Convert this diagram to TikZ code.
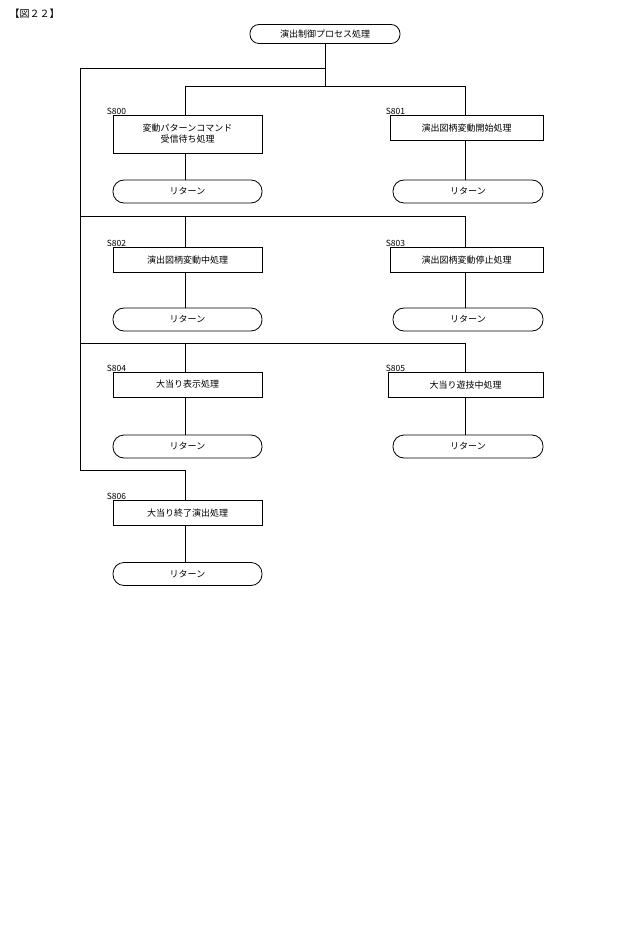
\documentclass[tikz,border=0pt]{standalone}
\usepackage{fontspec}
\setmainfont{Noto Sans CJK JP}
\begin{document}
\begin{tikzpicture}[x=1pt,y=-1pt,
  every node/.style={font=\fontsize{9}{11}\selectfont},
  proc/.style={draw,thick,minimum height=25pt,inner sep=2pt,align=center},
  term/.style={draw,thick,rounded corners=11pt,minimum height=23pt,minimum width=149pt},
  lbl/.style={anchor=south west,inner sep=1pt,font=\fontsize{8.5}{10}\selectfont},
  ln/.style={thick}]
\useasboundingbox (0,0) rectangle (640,949);
\node[anchor=west,font=\fontsize{10}{12}\selectfont] (title) at (6,14) {【図２２】};
\node[draw,thick,rounded corners=9pt,minimum height=19pt,minimum width=150pt] (start) at (325,34) {演出制御プロセス処理};
% row1
\node[proc,minimum width=149pt,minimum height=38pt] (s800) at (187.5,134) {変動パターンコマンド\\受信待ち処理};
\node[proc,minimum width=153pt] (s801) at (466.5,128) {演出図柄変動開始処理};
\node[term] (r0) at (187.5,191.5) {リターン};
\node[term,minimum width=150pt] (r1) at (468,191.5) {リターン};
% row2
\node[proc,minimum width=149pt] (s802) at (187.5,260) {演出図柄変動中処理};
\node[proc,minimum width=153pt] (s803) at (466.5,260) {演出図柄変動停止処理};
\node[term] (r2) at (187.5,319.5) {リターン};
\node[term,minimum width=150pt] (r3) at (468,319.5) {リターン};
% row3
\node[proc,minimum width=149pt] (s804) at (187.5,384.5) {大当り表示処理};
\node[proc,minimum width=155pt] (s805) at (465.5,385) {大当り遊技中処理};
\node[term] (r4) at (187.5,446.5) {リターン};
\node[term,minimum width=150pt] (r5) at (468,446.5) {リターン};
% row4
\node[proc,minimum width=149pt] (s806) at (187.5,513) {大当り終了演出処理};
\node[term] (r6) at (187.5,574) {リターン};
% labels
\node[lbl] (l800) at (s800.north west) [xshift=-7pt,yshift=-1pt] {S800};
\node[lbl] (l801) at (s801.north west) [xshift=-5pt,yshift=-1pt] {S801};
\node[lbl] (l802) at (s802.north west) [xshift=-7pt,yshift=-1pt] {S802};
\node[lbl] (l803) at (s803.north west) [xshift=-5pt,yshift=-1pt] {S803};
\node[lbl] (l804) at (s804.north west) [xshift=-7pt,yshift=-1pt] {S804};
\node[lbl] (l805) at (s805.north west) [xshift=-3pt,yshift=-1pt] {S805};
\node[lbl] (l806) at (s806.north west) [xshift=-7pt,yshift=-1pt] {S806};
% connectors
\coordinate (j0) at (325,68);
\coordinate (j1) at (325,86);
\draw[ln] (start.south) -- (j1);
\draw[ln] (j0) -- (80,68) -- (80,470) -- (185,470) -- (s806.north -| 185,0);
\draw[ln] (185,86) -- (465,86);
\draw[ln] (185,86) -- (185,115);
\draw[ln] (465,86) -- (465,115);
\draw[ln] (s800.south -| 185,0) -- (r0.north -| 185,0);
\draw[ln] (s801.south -| 465,0) -- (r1.north -| 465,0);
\draw[ln] (80,216) -- (465,216);
\draw[ln] (185,216) -- (s802.north -| 185,0);
\draw[ln] (465,216) -- (s803.north -| 465,0);
\draw[ln] (s802.south -| 185,0) -- (r2.north -| 185,0);
\draw[ln] (s803.south -| 465,0) -- (r3.north -| 465,0);
\draw[ln] (80,343) -- (465,343);
\draw[ln] (185,343) -- (s804.north -| 185,0);
\draw[ln] (465,343) -- (s805.north -| 465,0);
\draw[ln] (s804.south -| 185,0) -- (r4.north -| 185,0);
\draw[ln] (s805.south -| 465,0) -- (r5.north -| 465,0);
\draw[ln] (s806.south -| 185,0) -- (r6.north -| 185,0);
\end{tikzpicture}
\end{document}
